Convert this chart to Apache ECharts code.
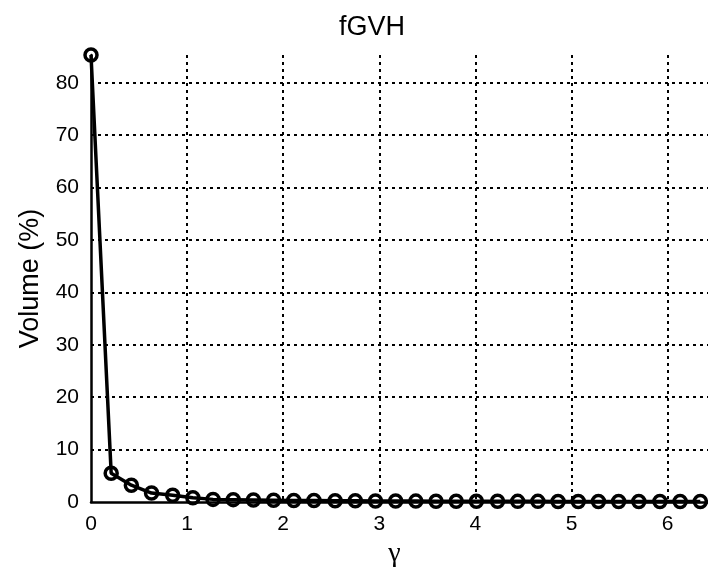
<!DOCTYPE html>
<html>
<head>
<meta charset="utf-8">
<script src="https://cdn.jsdelivr.net/npm/echarts@6/dist/echarts.min.js"></script>
<style>
html,body{margin:0;padding:0;background:#fff;}
#chart{width:708px;height:572px;}
</style>
</head>
<body>
<div id="chart"></div>
<script>
const chartTitle = 'fGVH';
const xName = 'γ';
const yName = 'Volume (%)';
const gammaValues = [0, 0.21, 0.42, 0.63, 0.85, 1.06, 1.27, 1.48, 1.69, 1.90, 2.11, 2.32, 2.54, 2.75, 2.96, 3.17, 3.38, 3.59, 3.80, 4.01, 4.23, 4.44, 4.65, 4.86, 5.07, 5.28, 5.49, 5.70, 5.92, 6.13, 6.34];
const volumeValues = [85.3, 5.5, 3.2, 1.7, 1.3, 0.8, 0.5, 0.45, 0.4, 0.35, 0.3, 0.27, 0.24, 0.22, 0.2, 0.18, 0.17, 0.16, 0.15, 0.14, 0.13, 0.12, 0.12, 0.11, 0.1, 0.1, 0.09, 0.09, 0.08, 0.08, 0.08];
const xMax = 6.42;
const yMax = 85.3;

const FONT = '"Liberation Sans", Arial, Helvetica, sans-serif';
const chart = echarts.init(document.getElementById('chart'), null, {renderer: 'canvas'});
const gridLine = {show: true, showMinLine: false, showMaxLine: false, lineStyle: {color: '#000', width: 2, type: [3, 4]}};
chart.setOption({
  animation: false,
  backgroundColor: '#fff',
  title: {
    text: chartTitle, left: 334, top: 9,
    textStyle: {fontFamily: FONT, fontSize: 27, fontWeight: 'normal', color: '#000'}
  },
  grid: {left: 91, right: 0, top: 55, bottom: 70, containLabel: false, outerBoundsMode: 'none'},
  xAxis: {
    type: 'value', min: 0, max: xMax, interval: 1,
    name: xName, nameLocation: 'middle', nameGap: 34,
    nameTextStyle: {fontFamily: '"Liberation Serif", "DejaVu Serif", serif', fontSize: 28, color: '#000', padding: [0, 10, 0, 0]},
    axisLine: {show: true, onZero: false, lineStyle: {color: '#000', width: 2.5}},
    axisTick: {show: false},
    axisLabel: {showMaxLabel: false, fontFamily: FONT, fontSize: 21, color: '#000', margin: 12},
    splitLine: gridLine
  },
  yAxis: {
    type: 'value', min: 0, max: yMax, interval: 10,
    name: yName, nameLocation: 'middle', nameGap: 47, nameRotate: 90,
    nameTextStyle: {fontFamily: FONT, fontSize: 27, color: '#000'},
    axisLine: {show: true, lineStyle: {color: '#000', width: 2.5}},
    axisTick: {show: false},
    axisLabel: {showMaxLabel: false, fontFamily: FONT, fontSize: 21, color: '#000', margin: 12},
    splitLine: gridLine
  },
  series: [{
    type: 'line',
    data: gammaValues.map((g, i) => [g, volumeValues[i]]),
    symbol: 'circle', symbolSize: 12, showAllSymbol: true,
    clip: false,
    lineStyle: {color: '#000', width: 3.5},
    itemStyle: {color: 'rgba(255,255,255,0)', borderColor: '#000', borderWidth: 3.5}
  }]
});
</script>
</body>
</html>
